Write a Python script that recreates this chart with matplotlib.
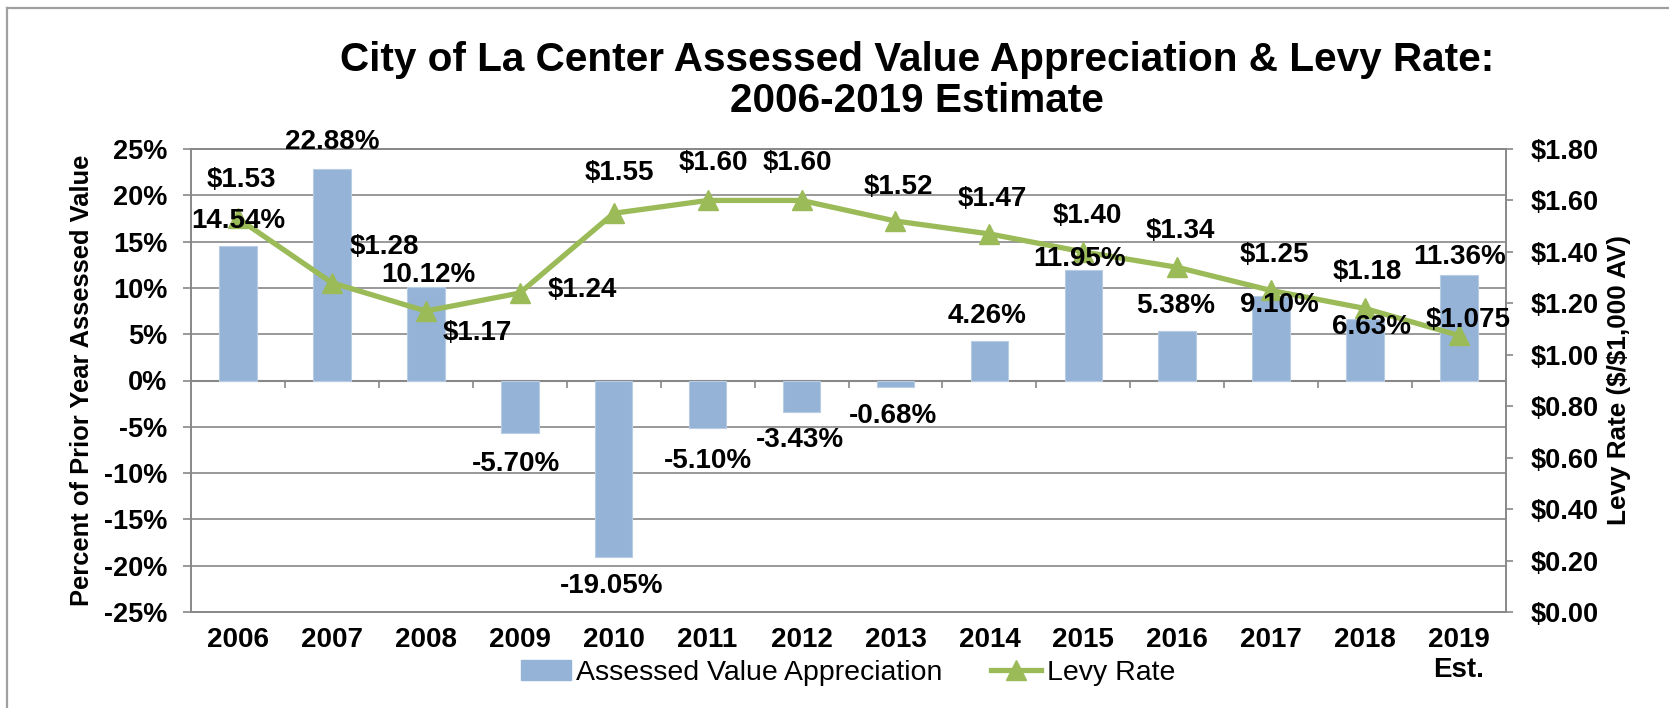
import matplotlib.pyplot as plt
from matplotlib.lines import Line2D

plt.rcParams['font.family'] = ['Liberation Sans', 'DejaVu Sans']

# data
years = ["2006", "2007", "2008", "2009", "2010", "2011", "2012", "2013",
         "2014", "2015", "2016", "2017", "2018", "2019\nEst."]
appreciation = [14.54, 22.88, 10.12, -5.70, -19.05, -5.10, -3.43, -0.68,
                4.26, 11.95, 5.38, 9.10, 6.63, 11.36]
levy_rate = [1.53, 1.28, 1.17, 1.24, 1.55, 1.60, 1.60, 1.52,
             1.47, 1.40, 1.34, 1.25, 1.18, 1.075]
levy_text = ["$1.53", "$1.28", "$1.17", "$1.24", "$1.55", "$1.60", "$1.60",
             "$1.52", "$1.47", "$1.40", "$1.34", "$1.25", "$1.18", "$1.075"]

# label offsets in pixels (x right, y down), moved by hand in the original
bar_off = [(0, -25), (0, -27), (3, -12), (-4, 31), (-2, 29), (0, 33), (-2, 28),
           (-2, 29), (-2, -25), (-4, -11), (-2, -25), (8, 9), (6, 8), (1, -18)]
levy_off = [(3, -38), (52, -36), (51, 22), (63, -3), (6, -40), (6, -37), (-4, -37),
            (3, -34), (3, -35), (4, -36), (3, -36), (3, -35), (2, -36), (9, -15)]

BLUE = "#95B3D7"
GREEN = "#9BBB59"
GRAY = "#888888"
FS = 20

fig = plt.figure(figsize=(16.69, 7.08), dpi=100)
ax = fig.add_axes([191 / 1669, 1 - 612 / 708, (1506 - 191) / 1669, 463 / 708])
ax2 = ax.twinx()

x = list(range(len(years)))
ax.bar(x, appreciation, width=0.4, color=BLUE, edgecolor="#B8CCE4", linewidth=0.8, zorder=2)
ax.set_xlim(-0.5, len(years) - 0.5)
ax.set_ylim(-25, 25)
ax.set_yticks(range(-25, 30, 5))
ax.set_yticklabels([f"{v}%" for v in range(-25, 30, 5)])
ax.yaxis.grid(True, color=GRAY, linewidth=1.2, zorder=0)
ax.set_axisbelow(True)
ax.axhline(0, color=GRAY, linewidth=1.5, zorder=1)
ax.vlines([i + 0.5 for i in x[:-1]], 0, -0.85, color=GRAY, linewidth=1.2, zorder=1)
ax.set_xticks(x)
ax.set_xticklabels(years, fontsize=FS, fontweight="bold")
ax.tick_params(axis="x", length=0, pad=11)
ax.tick_params(axis="y", length=6, width=1.2, color=GRAY, pad=11, labelsize=FS - 0.5)
for t in ax.get_yticklabels():
    t.set_fontweight("bold")
for s in ax.spines.values():
    s.set_color(GRAY)
    s.set_linewidth(1.2)
ax.set_ylabel("Percent of Prior Year Assessed Value", fontsize=18.4, fontweight="bold", labelpad=7)

ax2.plot(x, levy_rate, color=GREEN, linewidth=3.8, marker="^", markersize=14, zorder=2)
ax2.set_ylim(0, 1.8)
ax2.set_yticks([i * 0.2 for i in range(10)])
ax2.set_yticklabels([f"${i * 0.2:.2f}" for i in range(10)])
ax2.tick_params(axis="y", length=5, width=1.2, color=GRAY, pad=13, labelsize=FS - 0.5)
for t in ax2.get_yticklabels():
    t.set_fontweight("bold")
for s in ax2.spines.values():
    s.set_color(GRAY)
    s.set_linewidth(1.2)
ax2.set_ylabel(r"Levy Rate (\$/\$1,000 AV)", fontsize=18.8, fontweight="bold", labelpad=6)

# data labels, all on top of the line
for i, v in enumerate(appreciation):
    dx, dy = bar_off[i]
    ax2.annotate(f"{v:.2f}%", xy=(i, v), xycoords=ax.transData, xytext=(dx, -dy),
                 textcoords="offset pixels", ha="center", va="center",
                 fontsize=FS, fontweight="bold", zorder=5)
for i, v in enumerate(levy_rate):
    dx, dy = levy_off[i]
    ax2.annotate(levy_text[i], xy=(i, v), xytext=(dx, -dy),
                 textcoords="offset pixels", ha="center", va="center",
                 fontsize=FS, fontweight="bold", zorder=5)

fig.text(917 / 1669, 1 - 80.5 / 708,
         "City of La Center Assessed Value Appreciation & Levy Rate:\n2006-2019 Estimate",
         ha="center", va="center", fontsize=29.2, fontweight="bold", linespacing=1.1)

handles = [plt.Rectangle((0, 0), 1, 1, color=BLUE),
           Line2D([], [], color=GREEN, linewidth=3.8, marker="^", markersize=14)]
fig.legend(handles, ["Assessed Value Appreciation", "Levy Rate"], loc="center",
           bbox_to_anchor=(848 / 1669, 1 - 673 / 708), ncol=2, frameon=False,
           fontsize=20.5, handlelength=1.75, handletextpad=0.2, columnspacing=1.7)

# outer frame (top and left edges visible)
fig.add_artist(Line2D([7 / 1669, 1], [1 - 8 / 708, 1 - 8 / 708], color="#A0A0A0", linewidth=1.6))
fig.add_artist(Line2D([7 / 1669, 7 / 1669], [0, 1 - 8 / 708], color="#A0A0A0", linewidth=1.6))

fig.savefig("out.png", dpi=100)
